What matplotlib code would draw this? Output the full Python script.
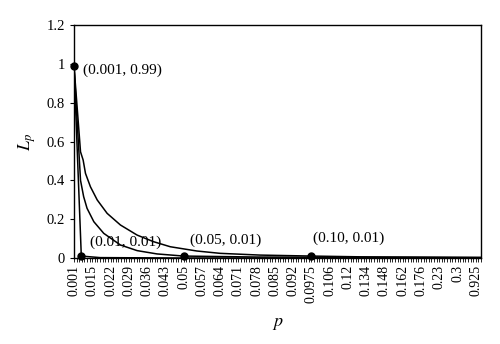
import numpy as np
import matplotlib.pyplot as plt

plt.rcParams['font.family'] = ['Liberation Serif', 'DejaVu Serif']
plt.rcParams['mathtext.fontset'] = 'stix'

# category axis: one slot per p value, every 7th slot labelled
p_labels = ['0.001', '0.015', '0.022', '0.029', '0.036', '0.043', '0.05',
            '0.057', '0.064', '0.071', '0.078', '0.085', '0.092', '0.0975',
            '0.106', '0.12', '0.134', '0.148', '0.162', '0.176', '0.23',
            '0.3', '0.925']
n_slots = 157

# curve positions are in slot units along the category axis
steep_x = [0, 2.8, 10, 40, 90, 156]
steep_y = [0.99, 0.01, 0.002, 0.0, 0.0, 0.0]

mid_x = [0, 2.5, 3.7, 5.0, 7.6, 11.4, 17.8, 24.2, 31.8, 42, 70, 156]
mid_y = [0.99, 0.40, 0.316, 0.256, 0.187, 0.127, 0.067, 0.038, 0.021, 0.01, 0.005, 0.002]

top_x = [0, 2.5, 3.5, 4.4, 6.3, 8.9, 12.7, 17.8, 24.2, 30.5, 36.9, 47.1, 56, 71.3, 91, 110, 156]
top_y = [0.99, 0.547, 0.505, 0.436, 0.367, 0.299, 0.230, 0.170, 0.118, 0.084, 0.058,
         0.036, 0.024, 0.015, 0.01, 0.006, 0.003]

pts_x = [0, 2.8, 42, 91]
pts_y = [0.99, 0.01, 0.01, 0.01]
pts_txt = ['(0.001, 0.99)', '(0.01, 0.01)', '(0.05, 0.01)', '(0.10, 0.01)']
txt_pos = [(3.5, 0.965), (6, 0.082), (44.6, 0.093), (91.6, 0.103)]

fig = plt.figure(figsize=(5.0, 3.44), dpi=100)
ax = fig.add_axes([0.148, 0.25, 0.814, 0.677])

ax.plot(steep_x, steep_y, color='black', lw=1.1)
ax.plot(mid_x, mid_y, color='black', lw=1.1)
ax.plot(top_x, top_y, color='black', lw=1.1)
ax.plot(pts_x, pts_y, 'o', color='black', ms=5, clip_on=False, zorder=5)

for (tx, ty), s in zip(txt_pos, pts_txt):
    ax.text(tx, ty, s, fontsize=11, va='center', ha='left')

ax.set_xlim(0, n_slots - 1)
ax.set_ylim(0, 1.2)

ax.set_xticks(np.arange(0, 7 * len(p_labels), 7))
ax.set_xticklabels(p_labels, rotation=90, fontsize=10)
ax.set_xticks(np.arange(0, n_slots), minor=True)
ax.tick_params(axis='x', which='both', direction='out', length=3, width=0.6, pad=2)

yt = [0, 0.2, 0.4, 0.6, 0.8, 1.0, 1.2]
ax.set_yticks(yt)
ax.set_yticklabels(['0', '0.2', '0.4', '0.6', '0.8', '1', '1.2'], fontsize=10.5)
ax.tick_params(axis='y', direction='out', length=3, width=0.8)

for sp in ax.spines.values():
    sp.set_linewidth(1.0)

ax.set_xlabel('$p$', fontsize=13, labelpad=9)
ax.set_ylabel('$L_p$', fontsize=13, labelpad=6)

fig.savefig('out.png', dpi=100)
